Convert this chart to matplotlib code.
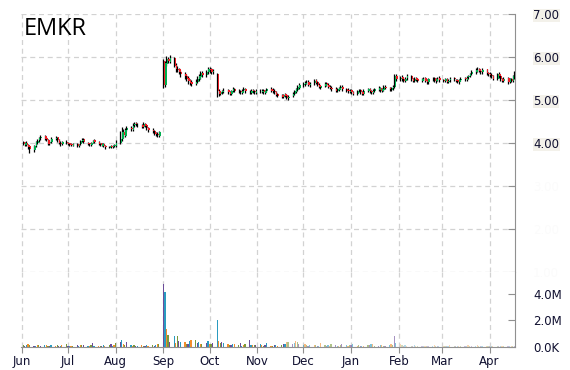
import matplotlib
matplotlib.use("Agg")
import matplotlib.pyplot as plt
import matplotlib.dates as mdates
import numpy as np
import pandas as pd
from matplotlib.ticker import FuncFormatter

ticker = "EMKR"

# trading days, Jun 2014 - mid Apr 2015
dates = pd.bdate_range("2014-06-02", "2015-04-17")

opens = [
    4.02, 3.96, 4.01, 3.96, 3.92, 3.84, 3.93, 4.01, 4.06, 4.11, 4.16, 4.11, 4.07, 3.99, 4.03, 4.09, 4.13, 4.07, 4.01, 3.97, 4.03,
    4.01, 3.99, 3.97, 3.94, 3.98, 3.93, 3.97, 4.04, 4.09, 4.01, 3.99, 3.96, 4.01, 4.06, 4.03, 3.99, 3.94, 3.98, 3.94, 3.89, 3.93, 3.90, 3.92,
    3.94, 4.01, 4.09, 4.26, 4.17, 4.31, 4.36, 4.31, 4.41, 4.46, 4.43, 4.41, 4.37, 4.44, 4.41, 4.34, 4.31, 4.27, 4.23, 4.21, 4.17,
    5.90, 5.36, 5.84, 5.96, 5.89, 5.97, 5.81, 5.73, 5.71, 5.66, 5.61, 5.56, 5.51, 5.46, 5.41, 5.37, 5.43, 5.49, 5.54, 5.63, 5.57, 5.64,
    5.73, 5.71, 5.64, 5.60, 5.21, 5.14, 5.19, 5.21, 5.23, 5.19, 5.14, 5.21, 5.26, 5.21, 5.21, 5.17, 5.23, 5.26, 5.19, 5.17, 5.23, 5.21, 5.17,
    5.21, 5.19, 5.23, 5.17, 5.21, 5.26, 5.23, 5.21, 5.19, 5.13, 5.11, 5.07, 5.13, 5.11, 5.04, 5.09, 5.14, 5.19, 5.24, 5.29,
    5.34, 5.37, 5.41, 5.43, 5.34, 5.39, 5.46, 5.41, 5.36, 5.29, 5.33, 5.39, 5.36, 5.31, 5.29, 5.26, 5.21, 5.24, 5.29, 5.31, 5.26, 5.23, 5.19,
    5.23, 5.19, 5.14, 5.21, 5.23, 5.19, 5.14, 5.21, 5.26, 5.21, 5.17, 5.21, 5.24, 5.29, 5.21, 5.24, 5.31, 5.29, 5.24, 5.27, 5.31, 5.56,
    5.49, 5.53, 5.49, 5.44, 5.51, 5.56, 5.49, 5.44, 5.51, 5.48, 5.44, 5.49, 5.51, 5.46, 5.41, 5.49, 5.51, 5.44, 5.49, 5.51,
    5.47, 5.44, 5.49, 5.43, 5.46, 5.51, 5.47, 5.46, 5.41, 5.47, 5.51, 5.47, 5.53, 5.56, 5.61, 5.64, 5.71, 5.73, 5.67, 5.64, 5.71, 5.63,
    5.61, 5.59, 5.56, 5.49, 5.61, 5.56, 5.49, 5.44, 5.51, 5.41, 5.49, 5.44, 5.54,
]
highs = [
    4.05, 4.03, 4.04, 3.98, 3.94, 3.95, 4.05, 4.09, 4.15, 4.19, 4.18, 4.13, 4.09, 4.05, 4.13, 4.16, 4.15, 4.09, 4.04, 4.05, 4.06,
    4.03, 4.01, 3.99, 3.99, 4.00, 3.98, 4.08, 4.12, 4.11, 4.03, 4.01, 4.03, 4.08, 4.09, 4.05, 4.00, 3.99, 4.00, 3.96, 3.94, 3.95, 3.95, 3.98,
    4.08, 4.28, 4.38, 4.32, 4.36, 4.40, 4.39, 4.46, 4.50, 4.50, 4.47, 4.44, 4.49, 4.47, 4.43, 4.37, 4.34, 4.30, 4.26, 4.25, 4.29,
    5.95, 5.90, 6.02, 6.00, 6.05, 6.00, 5.85, 5.78, 5.75, 5.70, 5.66, 5.60, 5.55, 5.50, 5.46, 5.48, 5.55, 5.60, 5.68, 5.67, 5.70, 5.76,
    5.76, 5.74, 5.72, 5.62, 5.26, 5.22, 5.24, 5.27, 5.26, 5.22, 5.24, 5.30, 5.29, 5.25, 5.24, 5.26, 5.30, 5.28, 5.23, 5.26, 5.26, 5.24, 5.26,
    5.25, 5.26, 5.26, 5.23, 5.29, 5.30, 5.27, 5.25, 5.22, 5.16, 5.14, 5.15, 5.16, 5.14, 5.11, 5.18, 5.24, 5.29, 5.36, 5.40,
    5.42, 5.45, 5.47, 5.46, 5.41, 5.50, 5.49, 5.44, 5.39, 5.36, 5.42, 5.42, 5.39, 5.34, 5.32, 5.30, 5.28, 5.31, 5.34, 5.35, 5.29, 5.27, 5.26,
    5.26, 5.22, 5.23, 5.26, 5.26, 5.21, 5.25, 5.29, 5.29, 5.24, 5.25, 5.28, 5.32, 5.31, 5.28, 5.34, 5.34, 5.31, 5.31, 5.34, 5.60, 5.60,
    5.56, 5.57, 5.52, 5.53, 5.60, 5.59, 5.52, 5.54, 5.54, 5.51, 5.51, 5.54, 5.54, 5.49, 5.51, 5.54, 5.54, 5.51, 5.54, 5.55,
    5.50, 5.51, 5.52, 5.48, 5.53, 5.54, 5.50, 5.49, 5.49, 5.53, 5.54, 5.55, 5.58, 5.63, 5.69, 5.74, 5.76, 5.75, 5.70, 5.74, 5.73, 5.66,
    5.64, 5.62, 5.58, 5.63, 5.64, 5.58, 5.52, 5.53, 5.53, 5.51, 5.52, 5.58, 5.68,
]
lows = [
    3.95, 3.93, 3.92, 3.86, 3.76, 3.80, 3.90, 3.98, 4.03, 4.08, 4.07, 4.04, 3.95, 3.96, 4.00, 4.07, 4.03, 3.97, 3.94, 3.95, 3.97,
    3.96, 3.94, 3.92, 3.92, 3.91, 3.90, 3.95, 4.02, 4.00, 3.96, 3.94, 3.94, 3.99, 4.00, 3.96, 3.92, 3.92, 3.91, 3.87, 3.88, 3.89, 3.88, 3.90,
    3.90, 3.98, 4.05, 4.12, 4.14, 4.27, 4.28, 4.29, 4.38, 4.40, 4.38, 4.34, 4.35, 4.37, 4.31, 4.26, 4.24, 4.18, 4.16, 4.13, 4.15,
    5.28, 5.30, 5.78, 5.85, 5.85, 5.76, 5.66, 5.64, 5.60, 5.54, 5.50, 5.44, 5.38, 5.34, 5.32, 5.34, 5.40, 5.45, 5.50, 5.53, 5.54, 5.60,
    5.62, 5.60, 5.60, 5.08, 5.10, 5.11, 5.15, 5.17, 5.14, 5.11, 5.12, 5.18, 5.18, 5.16, 5.14, 5.15, 5.20, 5.16, 5.14, 5.14, 5.16, 5.14, 5.14,
    5.16, 5.16, 5.15, 5.14, 5.18, 5.19, 5.17, 5.14, 5.09, 5.07, 5.04, 5.04, 5.07, 5.02, 5.01, 5.06, 5.11, 5.16, 5.21, 5.25,
    5.30, 5.33, 5.37, 5.32, 5.31, 5.36, 5.37, 5.32, 5.27, 5.26, 5.30, 5.32, 5.27, 5.25, 5.22, 5.19, 5.18, 5.21, 5.26, 5.22, 5.19, 5.16, 5.17,
    5.15, 5.12, 5.12, 5.18, 5.15, 5.12, 5.12, 5.18, 5.17, 5.15, 5.15, 5.18, 5.21, 5.19, 5.19, 5.21, 5.25, 5.22, 5.21, 5.24, 5.28, 5.44,
    5.45, 5.45, 5.41, 5.41, 5.47, 5.45, 5.41, 5.41, 5.44, 5.42, 5.41, 5.46, 5.42, 5.38, 5.38, 5.45, 5.42, 5.40, 5.45, 5.43,
    5.42, 5.41, 5.39, 5.40, 5.43, 5.45, 5.42, 5.39, 5.38, 5.44, 5.45, 5.44, 5.50, 5.53, 5.58, 5.61, 5.66, 5.65, 5.61, 5.61, 5.58, 5.55,
    5.54, 5.52, 5.46, 5.47, 5.52, 5.45, 5.42, 5.42, 5.38, 5.39, 5.42, 5.41, 5.50,
]
closes = [
    3.98, 4.00, 3.95, 3.90, 3.85, 3.92, 4.02, 4.05, 4.12, 4.15, 4.10, 4.08, 3.98, 4.02, 4.10, 4.12, 4.06, 4.00, 3.98, 4.02, 4.00,
    3.98, 3.96, 3.95, 3.97, 3.94, 3.96, 4.05, 4.08, 4.02, 3.98, 3.97, 4.00, 4.05, 4.02, 3.98, 3.95, 3.97, 3.93, 3.90, 3.92, 3.91, 3.93, 3.95,
    4.00, 4.10, 4.25, 4.18, 4.30, 4.35, 4.32, 4.40, 4.45, 4.44, 4.42, 4.38, 4.45, 4.40, 4.35, 4.30, 4.28, 4.22, 4.20, 4.18, 4.25,
    5.35, 5.85, 5.95, 5.90, 5.98, 5.80, 5.72, 5.70, 5.65, 5.60, 5.55, 5.50, 5.45, 5.40, 5.38, 5.42, 5.50, 5.55, 5.62, 5.58, 5.65, 5.72,
    5.70, 5.65, 5.68, 5.20, 5.15, 5.18, 5.20, 5.22, 5.18, 5.15, 5.20, 5.25, 5.22, 5.20, 5.18, 5.22, 5.25, 5.20, 5.18, 5.22, 5.20, 5.18, 5.22,
    5.20, 5.22, 5.18, 5.20, 5.25, 5.22, 5.20, 5.18, 5.12, 5.10, 5.08, 5.12, 5.10, 5.05, 5.08, 5.15, 5.20, 5.25, 5.30, 5.35,
    5.38, 5.40, 5.42, 5.35, 5.38, 5.45, 5.40, 5.35, 5.30, 5.32, 5.38, 5.35, 5.30, 5.28, 5.25, 5.22, 5.25, 5.28, 5.30, 5.25, 5.22, 5.20, 5.22,
    5.18, 5.15, 5.20, 5.22, 5.18, 5.15, 5.22, 5.25, 5.20, 5.18, 5.22, 5.25, 5.28, 5.22, 5.25, 5.30, 5.28, 5.25, 5.28, 5.30, 5.55, 5.50,
    5.52, 5.48, 5.45, 5.50, 5.55, 5.48, 5.45, 5.50, 5.47, 5.45, 5.48, 5.50, 5.45, 5.42, 5.48, 5.50, 5.45, 5.48, 5.50, 5.46,
    5.45, 5.48, 5.42, 5.45, 5.50, 5.48, 5.45, 5.42, 5.46, 5.50, 5.48, 5.52, 5.55, 5.60, 5.65, 5.70, 5.72, 5.68, 5.65, 5.70, 5.62, 5.60,
    5.58, 5.55, 5.50, 5.60, 5.55, 5.48, 5.45, 5.50, 5.42, 5.48, 5.45, 5.55, 5.62,
]
# volume in millions of shares
volumes = [
    0.15, 0.08, 0.12, 0.20, 0.18, 0.10, 0.08, 0.15, 0.12, 0.10, 0.18, 0.15, 0.10, 0.08, 0.12, 0.10, 0.18, 0.08, 0.10, 0.12, 0.22,
    0.10, 0.08, 0.06, 0.10, 0.12, 0.08, 0.15, 0.18, 0.12, 0.10, 0.08, 0.12, 0.30, 0.10, 0.08, 0.06, 0.10, 0.15, 0.08, 0.12, 0.25, 0.10, 0.15,
    0.30, 0.40, 0.55, 0.25, 0.18, 0.35, 0.12, 0.10, 0.15, 0.08, 0.10, 0.12, 0.08, 0.10, 0.14, 0.10, 0.12, 0.08, 0.15, 0.20, 0.25,
    4.75, 4.15, 1.35, 0.90, 0.35, 0.80, 0.30, 0.85, 0.45, 0.35, 0.40, 0.25, 0.20, 0.45, 0.50, 0.55, 0.30, 0.35, 0.20, 0.25, 0.30, 0.45,
    0.25, 0.20, 0.30, 2.00, 0.45, 0.30, 0.35, 0.30, 0.20, 0.15, 0.12, 0.20, 0.25, 0.15, 0.30, 0.10, 0.15, 0.20, 0.55, 0.18, 0.15, 0.12, 0.18,
    0.20, 0.12, 0.10, 0.15, 0.30, 0.10, 0.08, 0.12, 0.15, 0.10, 0.12, 0.20, 0.25, 0.35, 0.40, 0.25, 0.30, 0.45, 0.40, 0.20,
    0.15, 0.20, 0.12, 0.10, 0.15, 0.12, 0.18, 0.10, 0.08, 0.30, 0.15, 0.10, 0.12, 0.08, 0.20, 0.15, 0.10, 0.08, 0.12, 0.20, 0.15, 0.10, 0.12,
    0.15, 0.20, 0.10, 0.12, 0.08, 0.06, 0.10, 0.12, 0.15, 0.25, 0.20, 0.10, 0.08, 0.12, 0.15, 0.10, 0.08, 0.12, 0.20, 0.15, 0.85, 0.30,
    0.25, 0.15, 0.10, 0.12, 0.08, 0.06, 0.10, 0.12, 0.08, 0.06, 0.05, 0.08, 0.10, 0.06, 0.05, 0.08, 0.12, 0.06, 0.05, 0.08,
    0.06, 0.05, 0.08, 0.10, 0.12, 0.08, 0.06, 0.05, 0.04, 0.06, 0.08, 0.10, 0.12, 0.08, 0.06, 0.10, 0.12, 0.08, 0.06, 0.05, 0.08, 0.06,
    0.06, 0.08, 0.05, 0.04, 0.06, 0.05, 0.04, 0.06, 0.05, 0.04, 0.08, 0.06, 0.05,
]

price_ticks = [1, 2, 3, 4, 5, 6, 7]
vol_ticks = [0, 2e6, 4e6]

o = np.array(opens)
h = np.array(highs)
l = np.array(lows)
c = np.array(closes)
v = np.array(volumes) * 1e6
x = mdates.date2num(dates)

W, H = 570, 370
fig = plt.figure(figsize=(W / 100, H / 100), dpi=100)
ax = fig.add_axes([21 / W, 1 - 272 / H, 494 / W, 258 / H])
axv = fig.add_axes([21 / W, 1 - 347 / H, 494 / W, 75 / H], sharex=ax)

grid_kw = dict(color="#d2d2d2", linestyle=(0, (4, 3)), linewidth=0.9)
tick_col = "#909090"

# candles
up = c >= o
body_col = np.where(up, "#00b050", "#ee1c25")
ax.vlines(x, l, h, color="black", linewidth=0.9, zorder=3)
ax.bar(x + 0.7, np.maximum(np.abs(c - o), 0.01), bottom=np.minimum(o, c),
       width=0.9, color=body_col, linewidth=0, zorder=4)

# volume bars, colour cycles per bar and fades toward the recent end
vcols = ["#6b4c9a", "#2a9bc0", "#f28e2b", "#7a9a3a"]
nov = mdates.date2num(pd.Timestamp("2014-11-20"))
feb = mdates.date2num(pd.Timestamp("2015-02-01"))
for i in range(len(x)):
    a = 1.0 if x[i] < nov else (0.6 if x[i] < feb else 0.35)
    axv.bar(x[i], v[i], width=0.8, color=vcols[(i + 3) % 4], alpha=a, linewidth=0)

months = pd.date_range("2014-06-01", "2015-04-01", freq="MS")
mx = mdates.date2num(months)
ax.set_xlim(mdates.date2num(pd.Timestamp("2014-05-31 12:00")),
            mdates.date2num(pd.Timestamp("2015-04-17 12:00")))

for a_ in (ax, axv):
    for m in mx:
        a_.axvline(m, zorder=0, **grid_kw)
    for s in ["left", "top", "bottom"]:
        a_.spines[s].set_visible(False)
    a_.spines["right"].set_color(tick_col)
    a_.yaxis.tick_right()
    a_.tick_params(axis="y", direction="in", length=5, color=tick_col,
                   labelsize=8.5, pad=13)

for p in price_ticks:
    ax.axhline(p, zorder=0, **grid_kw)
ax.set_ylim(1, 7)
ax.set_yticks(price_ticks)
ax.set_yticklabels([f"{p:.2f}" for p in price_ticks])
for lab, p in zip(ax.get_yticklabels(), price_ticks):
    if p >= 4:
        lab.set_color("#101030")
        lab.set_bbox(dict(facecolor="#f3f1ea", edgecolor="none", pad=0.3))
    else:
        lab.set_color("#fbfbfb")
ax.tick_params(axis="x", bottom=False, labelbottom=False)

axv.set_ylim(0, 5.66e6)
axv.set_yticks(vol_ticks)
axv.yaxis.set_major_formatter(FuncFormatter(
    lambda val, pos: "0.0K" if val == 0 else f"{val / 1e6:.1f}M"))
for lab in axv.get_yticklabels():
    lab.set_color("#101030")
axv.spines["bottom"].set_visible(True)
axv.spines["bottom"].set_color(tick_col)
axv.set_xticks(mx)
axv.set_xticklabels([m.strftime("%b") for m in months])
axv.tick_params(axis="x", direction="out", length=4, color=tick_col,
                labelsize=8.5, labelcolor="#101030", pad=2)

fig.text(24 / W, 1 - 17 / H, ticker, fontsize=17, family="Open Sans",
         va="top", ha="left", color="black")

fig.savefig("out.png", dpi=100)
